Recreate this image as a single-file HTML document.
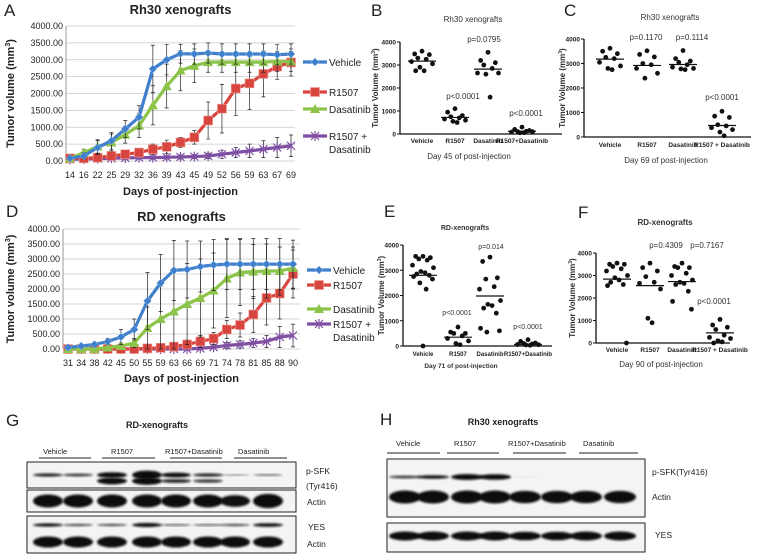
<!DOCTYPE html>
<html><head><meta charset="utf-8"><style>
body{margin:0;background:#fff}
svg{display:block;font-family:"Liberation Sans",Arial,sans-serif}
</style></head><body>
<svg id="fig" width="767" height="554" viewBox="0 0 767 554">
<defs>
<filter id="blur" x="-20%" y="-50%" width="140%" height="200%"><feGaussianBlur stdDeviation="1.1"/></filter>
</defs>
</svg>
<script>
// ===== Panel A data =====
const daysA=["14","16","22","25","29","32","36","39","43","45","49","52","56","59","63","67","69"];
const vehA=[80,150,400,600,950,1300,2730,3000,3180,3170,3200,3170,3170,3170,3170,3150,3170];
const r15A=[80,80,100,150,200,250,350,420,550,700,1200,1550,2150,2300,2580,2800,2920];
const dasA=[80,250,430,550,780,1050,1650,2220,2680,2820,2930,2930,2930,2930,2930,2950,2950];
const comA=[50,60,70,80,90,100,100,110,120,130,150,200,250,300,350,400,450];
const vehAerr=[40,100,200,250,250,350,700,450,280,300,300,300,300,300,300,300,300];
const r15Aerr=[40,40,50,80,100,100,150,200,150,200,550,720,800,780,680,380,400];
const dasAerr=[40,100,200,250,250,350,580,650,600,500,300,300,300,300,300,300,300];
const comAerr=[30,30,30,30,40,40,50,50,60,60,80,120,150,200,250,300,320];
// ===== Panel D data =====
const daysD=["31","34","38","42","45","50","55","59","63","66","69","71","74","78","81","85","88","90"];
const vehD=[50,100,150,250,400,650,1600,2200,2620,2650,2750,2800,2830,2830,2830,2830,2830,2830];
const r15D=[0,0,0,0,0,0,20,40,80,150,250,350,650,800,1150,1700,1850,2500];
const dasD=[0,0,0,50,100,200,700,1000,1250,1500,1700,1950,2350,2550,2580,2600,2600,2700];
const comD=[0,0,0,0,0,0,0,0,0,0,20,60,120,150,200,250,400,450];
const vehDerr=[30,60,80,100,250,350,950,950,1000,950,850,850,850,850,850,850,850,800];
const r15Derr=[20,20,20,20,20,20,50,80,100,150,200,200,300,400,600,900,850,800];
const dasDerr=[20,20,20,50,100,150,700,1100,1300,1350,1300,1250,1300,1100,900,900,800,700];
const comDerr=[10,10,10,10,10,10,10,10,10,10,30,50,100,120,150,200,350,380];
const tickVals=[0,500,1000,1500,2000,2500,3000,3500,4000];
// ===== Scatter panels =====
const groups=["Vehicle","R1507","Dasatinib","R1507+Dasatinib"];
const groupsCF=["Vehicle","R1507","Dasatinib","R1507 + Dasatinib"];
const B_veh=[3600,3480,3450,3300,3250,3150,3050,2900,2750,2750];
const B_r15=[1100,950,800,750,700,650,600,550,500];
const B_das=[3550,3200,3100,3000,2850,2650,2650,2600,1600];
const B_com=[300,200,150,100,120,80,100,50,60];
const B_med=[3170,720,2820,120];
const C_veh=[3620,3500,3400,3250,3200,3050,2900,2800,2750];
const C_r15=[3520,3370,3270,3000,2950,2800,2600,2400];
const C_das=[3530,3200,3100,3050,2950,2850,2800,2780,2750];
const C_com=[1050,850,800,500,450,380,300,200,50];
const C_med=[3180,2920,2960,470];
const E_veh=[3550,3550,3500,3450,3400,3200,3100,2950,2900,2850,2800,2750,2650,2500,2250,0];
const E_r15=[750,550,500,500,400,300,200,100,50];
const E_das=[3520,3350,2700,2650,2350,2250,1800,1650,1600,1500,1300,700,600,550];
const E_com=[250,180,120,100,80,60,50,40,30];
const E_med=[2800,350,1980,60];
const F_veh=[3550,3500,3500,3400,3300,3200,3000,2900,2800,2700,2600,2550,0];
const F_r15=[3550,3350,3200,2950,2700,2650,2400,1100,900];
const F_das=[3550,3400,3350,3350,3100,3000,2800,2700,2650,2600,2300,1850,1500];
const F_com=[1050,800,700,600,350,250,200,100,50,0];
const F_med=[2840,2550,2730,450];
const scatterTicks=[0,1000,2000,3000,4000];

const svg=document.getElementById('fig');
const NS='http://www.w3.org/2000/svg';
function el(tag,attrs,parent,text){const e=document.createElementNS(NS,tag);for(const k in attrs)e.setAttribute(k,attrs[k]);if(text!==undefined)e.textContent=text;(parent||svg).appendChild(e);return e;}
function txt(x,y,s,size,opts,parent){opts=opts||{};const t=el('text',Object.assign({x:x,y:y,'font-size':size,fill:opts.fill||'#222','text-anchor':opts.anchor||'start','font-weight':opts.bold?'bold':'normal'},opts.attrs||{}),parent,s);return t;}

// ===== Line chart =====
function lineChart(cfg){
  const g=el('g',{});
  
  
  const y=v=>cfg.y0+(cfg.y4-cfg.y0)*v/4000;
  const n=cfg.cats.length;
  const x=i=>cfg.xf+(cfg.xl-cfg.xf)*i/(n-1);
  tickVals.forEach(v=>{
    const l=el('line',{x1:cfg.ax,x2:cfg.right,y1:y(v),y2:y(v),stroke:'#c8c8c8','stroke-width':0.8},g);
    
    txt(cfg.ax-3,y(v)+3,v.toFixed(2),9,{anchor:'end',name:'y-tick-label'},g);
  });
  el('line',{x1:cfg.ax,x2:cfg.ax,y1:y(4000),y2:y(0),stroke:'#999','stroke-width':1},g);
  cfg.cats.forEach((c,i)=>txt(x(i),cfg.xlabY,c,9,{anchor:'middle',name:'x-tick-label'},g));
  const series=[
    {v:cfg.com,e:cfg.come,c:'#7e4fa3',m:'star',name:'series-combination'},
    {v:cfg.r15,e:cfg.r15e,c:'#d8453f',m:'square',name:'series-r1507'},
    {v:cfg.das,e:cfg.dase,c:'#8cc44a',m:'tri',name:'series-dasatinib'},
    {v:cfg.veh,e:cfg.vehe,c:'#3f7fcb',m:'diamond',name:'series-vehicle'}];
  series.forEach(s=>{
    const sg=el('g',{},g);
    s.v.forEach((v,i)=>{const xx=x(i),a=y(Math.min(4000,v+s.e[i])),b=y(Math.max(0,v-s.e[i]));
      const eb=el('path',{d:`M${xx},${a}V${b}M${xx-2},${a}H${xx+2}M${xx-2},${b}H${xx+2}`,stroke:'#222','stroke-width':0.7,fill:'none'},sg);
      });
    const p=el('polyline',{points:s.v.map((v,i)=>x(i)+','+y(v)).join(' '),fill:'none',stroke:s.c,'stroke-width':3.2,'stroke-linejoin':'round'},sg);
    
    s.v.forEach((v,i)=>{marker(x(i),y(v),s.m,s.c,sg);});
  });
  txt((cfg.ax+cfg.right)/2,cfg.titleY,cfg.title,13,{anchor:'middle',bold:true,name:'chart-title'},g);
  txt((cfg.ax+cfg.right)/2,cfg.xtitleY,'Days of post-injection',11,{anchor:'middle',bold:true,name:'x-axis-title'},g);
  const yt=txt(0,0,'',11,{anchor:'middle',bold:true,name:'y-axis-title',attrs:{transform:`translate(${cfg.ytx},${(y(0)+y(4000))/2}) rotate(-90)`}},g);
  yt.textContent='Tumor volume (mm';el('tspan',{'font-size':7,dy:-4},yt,'3');el('tspan',{dy:4},yt,')');
  txt(cfg.letterX,cfg.letterY,cfg.letter,17,{name:'panel-letter'},g);
  const leg=[['Vehicle','#3f7fcb','diamond'],['R1507','#d8453f','square'],['Dasatinib','#8cc44a','tri'],['R1507 +','#7e4fa3','star']];
  leg.forEach((L,i)=>{const ly=cfg.legY[i];
    const lg=el('g',{},g);
    el('line',{x1:cfg.legX,x2:cfg.legX+24,y1:ly,y2:ly,stroke:L[1],'stroke-width':3.2},lg);
    marker(cfg.legX+12,ly,L[2],L[1],lg);
    txt(cfg.legX+26,ly+4,L[0],10,{name:'legend-label'},lg);
    if(i==3)txt(cfg.legX+26,ly+17,'Dasatinib',10,{name:'legend-label'},lg);
  });
}
function marker(x,y,t,c,parent){
  let m;
  if(t=='diamond')m=el('path',{d:`M${x},${y-4}L${x+4},${y}L${x},${y+4}L${x-4},${y}Z`,fill:c,stroke:'#9cc3ee','stroke-width':0.5},parent);
  else if(t=='square')m=el('rect',{x:x-4.5,y:y-4.5,width:9,height:9,fill:c,stroke:'#f0a09a','stroke-width':0.6},parent);
  else if(t=='tri')m=el('path',{d:`M${x},${y-5}L${x+5},${y+4}L${x-5},${y+4}Z`,fill:c},parent);
  else m=el('path',{d:`M${x-4},${y-4}L${x+4},${y+4}M${x+4},${y-4}L${x-4},${y+4}M${x},${y-5}V${y+5}`,stroke:c,'stroke-width':1.2},parent);
  
  return m;
}
lineChart({name:'panel-a-chart',cats:daysA,veh:vehA,r15:r15A,das:dasA,com:comA,vehe:vehAerr,r15e:r15Aerr,dase:dasAerr,come:comAerr,
 ax:66,right:295,xf:70,xl:291,y0:161,y4:26,xlabY:178,titleY:14,xtitleY:195,ytx:14,title:'Rh30 xenografts',letter:'A',letterX:4,letterY:16,
 legX:303,legY:[62,92,109,136]});
lineChart({name:'panel-d-chart',cats:daysD,veh:vehD,r15:r15D,das:dasD,com:comD,vehe:vehDerr,r15e:r15Derr,dase:dasDerr,come:comDerr,
 ax:63,right:300,xf:68,xl:293,y0:349,y4:229,xlabY:366,titleY:221,xtitleY:382,ytx:14,title:'RD xenografts',letter:'D',letterX:6,letterY:217,
 legX:307,legY:[270,285,309,324]});

// ===== Scatter =====
const jit=[0,-7,7,-4,4,-10,10,-2,2,-6,6,-9,9,-3,3,0];
function scatter(cfg){
  const g=el('g',{});
  const y=v=>cfg.y0+(cfg.y4-cfg.y0)*v/4000;
  el('line',{x1:cfg.ax,x2:cfg.ax,y1:y(4000),y2:y(0),stroke:'#111','stroke-width':1.3},g);
  el('line',{x1:cfg.ax,x2:cfg.right,y1:y(0),y2:y(0),stroke:'#111','stroke-width':1.3},g);
  scatterTicks.forEach(v=>{el('line',{x1:cfg.ax-3,x2:cfg.ax,y1:y(v),y2:y(v),stroke:'#111'},g);
    txt(cfg.ax-4,y(v)+2.5,String(v),6.5,{anchor:'end',bold:true,name:'y-tick-label'},g);});
  cfg.data.forEach((arr,gi)=>{
    const cx=cfg.cx[gi];
    arr.forEach((v,i)=>{const d=el('circle',{cx:cx+jit[i%jit.length]*cfg.jw,cy:y(v),r:2.4,fill:'#111'},g);
      });
    const m=el('line',{x1:cx-14,x2:cx+14,y1:y(cfg.med[gi]),y2:y(cfg.med[gi]),stroke:'#111','stroke-width':1.2},g);
    
    txt(cx,cfg.labY,cfg.cats[gi],cfg.labSize,{anchor:'middle',bold:true,name:'x-tick-label'},g);
  });
  cfg.pvals.forEach(p=>txt(p[0],p[1],p[2],cfg.pSize,{anchor:'middle',fill:'#333',name:'p-value'},g));
  txt(cfg.titleX,cfg.titleY,cfg.title,cfg.titleSize,{anchor:'middle',bold:cfg.titleBold,fill:'#333',name:'chart-title'},g);
  txt(cfg.titleX-4,cfg.xtY,cfg.xt,cfg.xtSize,{anchor:'middle',bold:cfg.xtBold,fill:'#333',name:'x-axis-title'},g);
  const yt=txt(0,0,'Tumor Volume (mm',8,{anchor:'middle',bold:true,fill:'#333',name:'y-axis-title',attrs:{transform:`translate(${cfg.ytx},${(y(0)+y(4000))/2}) rotate(-90)`}},g);
  el('tspan',{'font-size':5,dy:-3},yt,'3');el('tspan',{dy:3},yt,')');
  txt(cfg.lx,cfg.ly,cfg.letter,17,{name:'panel-letter'},g);
}
scatter({name:'panel-b-chart',data:[B_veh,B_r15,B_das,B_com],med:B_med,cats:groups,ax:400,right:562,y0:134,y4:42,cx:[422,455,488,522],jw:1.05,labY:143,labSize:6.5,
 pvals:[[463,99,'p<0.0001'],[484,42,'p=0.0795'],[526,116,'p<0.0001']],pSize:8,title:'Rh30 xenografts',titleX:473,titleY:22,titleSize:8,titleBold:false,
 xt:'Day 45 of post-injection',xtY:159,xtSize:8,xtBold:false,ytx:378,letter:'B',lx:371,ly:16});
scatter({name:'panel-c-chart',data:[C_veh,C_r15,C_das,C_com],med:C_med,cats:groupsCF,ax:584,right:751,y0:137,y4:39,cx:[610,647,683,722],jw:1.05,labY:147,labSize:6.5,
 pvals:[[646,40,'p=0.1170'],[692,40,'p=0.1114'],[722,100,'p<0.0001']],pSize:8,title:'Rh30 xenografts',titleX:670,titleY:20,titleSize:8,titleBold:false,
 xt:'Day 69 of post-injection',xtY:163,xtSize:8,xtBold:false,ytx:565,letter:'C',lx:564,ly:16});
scatter({name:'panel-e-chart',data:[E_veh,E_r15,E_das,E_com],med:E_med,cats:groups,ax:403,right:552,y0:346,y4:245,cx:[423,458,490,528],jw:1.05,labY:356,labSize:6,
 pvals:[[457,315,'p<0.0001'],[491,249,'p=0.014'],[528,329,'p<0.0001']],pSize:7,title:'RD-xenografts',titleX:465,titleY:230,titleSize:7,titleBold:true,
 xt:'Day 71 of post-injection',xtY:368,xtSize:6.5,xtBold:true,ytx:384,letter:'E',lx:384,ly:217});
scatter({name:'panel-f-chart',data:[F_veh,F_r15,F_das,F_com],med:F_med,cats:groupsCF,ax:596,right:730,y0:343,y4:253,cx:[617,650,682,720],jw:1.05,labY:352,labSize:6.5,
 pvals:[[666,248,'p=0.4309'],[707,248,'p=0.7167'],[714,304,'p<0.0001']],pSize:8,title:'RD-xenografts',titleX:665,titleY:225,titleSize:8,titleBold:true,
 xt:'Day 90 of post-injection',xtY:367,xtSize:8,xtBold:false,ytx:575,letter:'F',lx:578,ly:218});

// ===== Western blots =====
function blot(cfg){
  const g=el('g',{});
  txt(cfg.lx,cfg.ly,cfg.letter,17,{name:'panel-letter'},g);
  txt(cfg.tx,cfg.ty,cfg.title,9,{anchor:'middle',bold:true,name:'blot-title'},g);
  cfg.groups.forEach(gr=>{txt(gr[0],cfg.gy,gr[1],7.5,{name:'group-label'},g);
    el('line',{x1:gr[2],x2:gr[3],y1:cfg.gly,y2:cfg.gly,stroke:'#222','stroke-width':1},g);});
  cfg.boxes.forEach(b=>{const r=el('rect',{x:b[0],y:b[1],width:b[2]-b[0],height:b[3]-b[1],fill:'#f4f4f4',stroke:'#222','stroke-width':1},g);
    });
  cfg.bands.forEach(bd=>{
    cfg.lanes.forEach((lx,i)=>{const w=bd.w[i]; if(w<=0)return;
      const e=el('ellipse',{cx:lx,cy:bd.y,rx:cfg.rx,ry:bd.h*w,fill:'#111','fill-opacity':Math.min(1,0.35+w*0.7),filter:'url(#blur)'},g);
      });
  });
  cfg.labels.forEach(l=>txt(l[0],l[1],l[2],8.5,{name:'blot-row-label'},g));
}
blot({name:'panel-g-blot',letter:'G',lx:6,ly:426,title:'RD-xenografts',tx:157,ty:428,gy:454,gly:458,
 groups:[[43,'Vehicle',39,91],[111,'R1507',102,155],[165,'R1507+Dasatinib',170,222],[238,'Dasatinib',234,287]],
 boxes:[[27,462,296,488],[27,490,296,512],[27,516,296,553]],lanes:[48,78,112,147,176,208,235,268],rx:15,
 bands:[{y:475,h:2,w:[0.8,0.7,1.4,2.2,1.2,0.8,0.3,0.4]},{y:481,h:2.4,w:[0,0,1.4,1.6,0.8,0.7,0,0]},
   {y:501,h:6.5,w:[1,1,1,1,1,1,0.9,1.1]},{y:525,h:1.8,w:[0.9,0.6,0.6,1.1,0.5,0.5,0.6,1]},{y:542,h:5.5,w:[1,1,1,1,1,1,1,1]}],
 labels:[[306,474,'p-SFK'],[306,489,'(Tyr416)'],[307,505,'Actin'],[308,530,'YES'],[307,547,'Actin']]});
blot({name:'panel-h-blot',letter:'H',lx:380,ly:425,title:'Rh30 xenografts',tx:503,ty:425,gy:446,gly:453,
 groups:[[396,'Vehicle',387,440],[454,'R1507',447,499],[508,'R1507+Dasatinib',513,566],[583,'Dasatinib',579,638]],
 boxes:[[387,459,645,517],[387,523,645,552]],lanes:[405,433,467,495,525,557,586,620],rx:16,
 bands:[{y:477,h:2,w:[0.7,0.9,1.5,1.4,0.1,0,0,0]},{y:497,h:6.5,w:[1,1,1,1,0.95,0.95,0.95,0.95]},{y:536,h:4.5,w:[1,1,1,1,0.95,0.95,1,1]}],
 labels:[[652,475,'p-SFK(Tyr416)'],[652,500,'Actin'],[655,538,'YES']]});
</script>
</body></html>
